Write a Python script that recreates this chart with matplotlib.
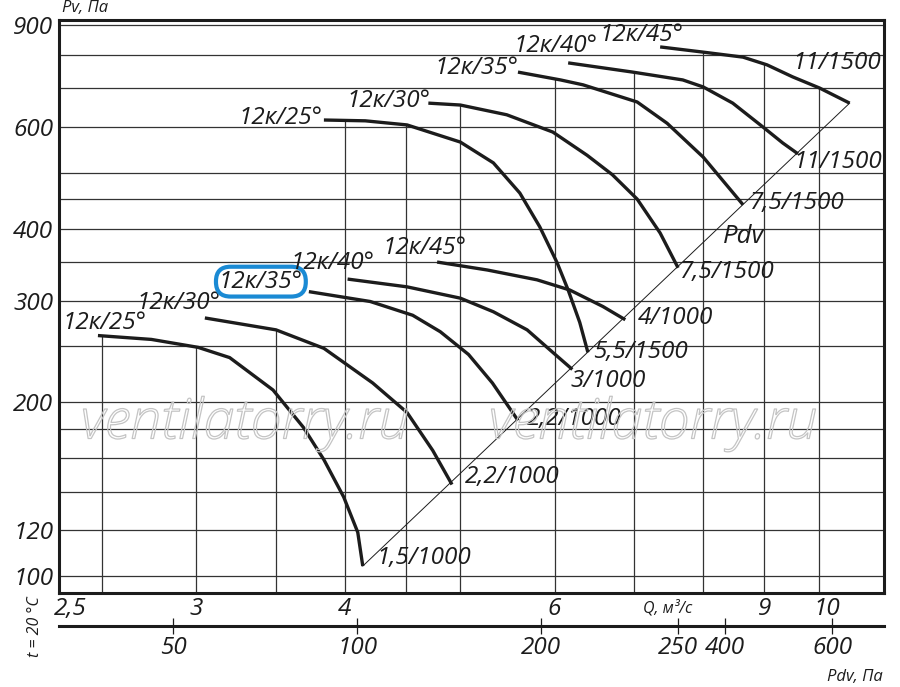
import numpy as np
import matplotlib
matplotlib.use('Agg')
import matplotlib.pyplot as plt
from matplotlib import patheffects
from matplotlib.ticker import NullLocator, FixedLocator, FixedFormatter

plt.rcParams['font.family'] = ['Open Sans', 'DejaVu Sans']
plt.rcParams['font.style'] = 'italic'

# fan curves: Q, m3/s  ->  Pv, Pa
l25_q = [2.48, 2.75, 3.01, 3.20, 3.48, 3.69, 3.84, 3.99, 4.10, 4.14]
l25_p = [261, 257, 249, 239, 210, 181, 159, 137, 119, 104]
l30_q = [3.05, 3.50, 3.84, 4.22, 4.51, 4.74, 4.92]
l30_p = [280, 267, 248, 216, 192, 165, 144]
l35_q = [3.73, 4.20, 4.56, 4.81, 5.08, 5.32, 5.59]
l35_p = [311, 299, 283, 265, 242, 216, 186]
l40_q = [4.02, 4.51, 5.00, 5.33, 5.69, 5.98, 6.21]
l40_p = [327, 317, 303, 287, 267, 244, 228]
l45_q = [4.78, 5.27, 5.80, 6.18, 6.59, 6.88]
l45_p = [350, 339, 326, 313, 293, 278]

u25_q = [3.84, 4.16, 4.51, 5.00, 5.33, 5.61, 5.83, 6.03, 6.16, 6.30, 6.40]
u25_p = [617, 615, 605, 565, 520, 461, 403, 349, 313, 275, 244]
u30_q = [4.70, 5.00, 5.47, 5.98, 6.39, 6.71, 7.04, 7.36, 7.62]
u30_p = [660, 655, 630, 588, 536, 496, 450, 393, 342]
u35_q = [5.59, 6.07, 6.34, 7.04, 7.46, 8.00, 8.64]
u35_p = [747, 724, 710, 663, 609, 532, 440]
u40_q = [6.16, 6.98, 7.69, 8.00, 8.47, 8.98, 9.33, 9.61]
u40_p = [775, 747, 724, 704, 660, 600, 563, 539]
u45_q = [7.36, 8.00, 8.64, 9.05, 9.51, 10.02, 10.62]
u45_p = [826, 809, 793, 769, 733, 701, 660]

curve_names = ['12к/25°', '12к/30°', '12к/35°', '12к/40°', '12к/45°'] * 2
motor_labels = ['1,5/1000', '2,2/1000', '2,2/1000', '3/1000', '4/1000',
                '5,5/1500', '7,5/1500', '7,5/1500', '11/1500', '11/1500']

grid_q = [2.5, 3, 3.5, 4, 4.5, 5, 6, 7, 8, 9, 10]
grid_p = [100, 120, 140, 160, 180, 200, 250, 300, 350, 400, 450, 500, 600, 700, 800, 900]
p_ticks = [100, 120, 200, 300, 400, 600, 900]
q_ticks = [2.35, 3, 4, 6, 9, 10.16]
q_tick_labels = ['2,5', '3', '4', '6', '9', '10']
pdv_ticks = [50, 100, 200, 335, 400, 600]
pdv_tick_labels = ['50', '100', '200', '250', '400', '600']

curves_q = [l25_q, l30_q, l35_q, l40_q, l45_q, u25_q, u30_q, u35_q, u40_q, u45_q]
curves_p = [l25_p, l30_p, l35_p, l40_p, l45_p, u25_p, u30_p, u35_p, u40_p, u45_p]

# label offsets in pixels
name_off = [(7, 13), (-26, 15), (-48, 10), (-15, 16), (-13, 14),
            (-43, 2), (-40, 2), (-42, 4), (-13, 17), (-19, 12)]
motor_off = [(14, 8), (13, 8), (9, 1), (-2, -12), (13, 2),
             (5, 0), (2, -4), (7, 2), (-5, -8), (-57, 40)]

W, H = 900, 687
fig = plt.figure(figsize=(9, 6.87), dpi=100)
ax = fig.add_axes([59 / W, 94 / H, 825 / W, 573 / H])
ax.set_xscale('log')
ax.set_yscale('log')
xlim = (2.30, 11.35)
ylim = (93.4, 919.7)
ax.set_xlim(*xlim)
ax.set_ylim(*ylim)

ink = '#1c1c1c'
grid_col = '#333333'
fs = 17.5

for p in grid_p:
    ax.hlines(p, *xlim, color=grid_col, lw=0.9, zorder=1)

# vertical grid lines stop at the upper curve
for q in grid_q:
    top = ylim[1]
    hits = []
    for cq, cp in zip(curves_q, curves_p):
        if cq[0] <= q <= cq[-1]:
            hits.append(10 ** np.interp(np.log10(q), np.log10(cq), np.log10(cp)))
    if hits:
        top = max(hits)
    ax.vlines(q, ylim[0], top, color=grid_col, lw=0.9, zorder=1)

# system line Pdv ~ Q^2
ax.plot([l25_q[-1], u45_q[-1]], [l25_p[-1], u45_p[-1]], color=ink, lw=0.7, zorder=2)

for i, (cq, cp) in enumerate(zip(curves_q, curves_p)):
    ax.plot(cq, cp, color=ink, lw=2.4, solid_capstyle='butt',
            solid_joinstyle='round', zorder=3)
    box = None
    if i == 2:
        box = dict(boxstyle='round,pad=0.12,rounding_size=0.6', fc='none',
                   ec='#1a8ad4', lw=3)
    ax.annotate(curve_names[i], (cq[0], cp[0]), xytext=name_off[i],
                textcoords='offset pixels', ha='center', va='center',
                fontsize=fs, color=ink, bbox=box, zorder=4)
    ax.annotate(motor_labels[i], (cq[-1], cp[-1]), xytext=motor_off[i],
                textcoords='offset pixels', ha='left', va='center',
                fontsize=fs, color=ink, zorder=4)

ax.text(8.65, 387, 'Pdv', fontsize=18.5, color=ink, ha='center', va='center')

for s in ax.spines.values():
    s.set_linewidth(2.2)
    s.set_color(ink)

ax.xaxis.set_major_locator(FixedLocator(q_ticks))
ax.xaxis.set_major_formatter(FixedFormatter(q_tick_labels))
ax.xaxis.set_minor_locator(NullLocator())
ax.yaxis.set_major_locator(FixedLocator(p_ticks))
ax.yaxis.set_major_formatter(FixedFormatter([str(v) for v in p_ticks]))
ax.yaxis.set_minor_locator(NullLocator())
ax.tick_params(axis='both', length=0, labelsize=fs, colors=ink)
ax.tick_params(axis='x', pad=3)
ax.tick_params(axis='y', pad=4)

# Pdv scale under the chart
ax2 = fig.add_axes([59 / W, (H - 626) / H, 825 / W, 0.0001])
ax2.set_xscale('log')
ax2.set_xlim(32.5, 729)
for k in ['top', 'left', 'right']:
    ax2.spines[k].set_visible(False)
ax2.spines['bottom'].set_linewidth(2.2)
ax2.spines['bottom'].set_color(ink)
ax2.set_yticks([])
ax2.xaxis.set_major_locator(FixedLocator(pdv_ticks))
ax2.xaxis.set_major_formatter(FixedFormatter(pdv_tick_labels))
ax2.xaxis.set_minor_locator(NullLocator())
ax2.tick_params(axis='x', direction='inout', length=11, width=0.9,
                labelsize=fs, pad=2, colors=ink)
ax2.patch.set_visible(False)

fig.text(62 / W, 1 - 8 / H, 'Pv, Па', fontsize=12, color=ink, ha='left', va='center')
fig.text(668 / W, 1 - 608 / H, 'Q, м³/с', fontsize=11.5, color=ink, ha='center', va='center')
fig.text(855 / W, 1 - 677 / H, 'Pdv, Па', fontsize=12, color=ink, ha='center', va='center')
fig.text(35 / W, 1 - 627 / H, 't = 20 °C', fontsize=11.5, color=ink, rotation=90,
         ha='center', va='center')

for cx in (245, 653):
    fig.text(cx / W, 1 - 424 / H, 'ventilatorry.ru', fontsize=40, color='none',
             ha='center', va='center', fontweight='light',
             path_effects=[patheffects.withStroke(linewidth=0.9, foreground='#c4c4c4')])

fig.savefig('out.png', dpi=100)
